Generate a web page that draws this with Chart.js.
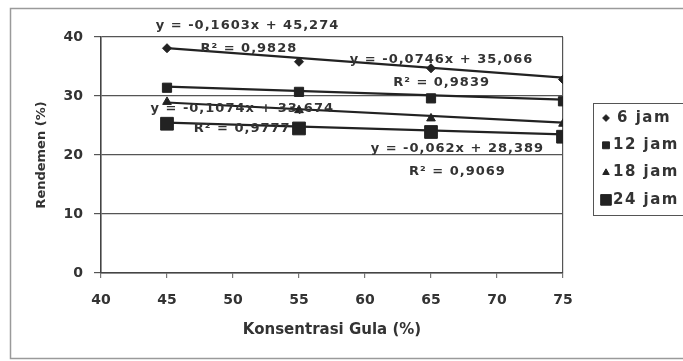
<!DOCTYPE html>
<html>
<head>
<meta charset="utf-8">
<script src="https://cdn.jsdelivr.net/npm/chart.js@4"></script>
<style>
  html, body { margin: 0; padding: 0; background: #fff; }
  #wrap { width: 683px; height: 361px; }
</style>
</head>
<body>
<div id="wrap"><canvas id="chart" width="683" height="361"></canvas></div>
<script>
// values
const konsentrasi = [45, 55, 65, 75];
const seriesNames = ["6 jam", "12 jam", "18 jam", "24 jam"];
const jam6 = [38.1, 35.8, 34.7, 32.8];
const jam12 = [31.4, 30.7, 29.6, 29.1];
const jam18 = [29.0, 27.6, 26.2, 25.3];
const jam24 = [25.3, 24.5, 23.9, 23.1];

// trendline ends (x = 45 and x = 75)
const trendX = [45, 75];
const trend6 = [38.1, 33.1];
const trend12 = [31.6, 29.4];
const trend18 = [28.9, 25.5];
const trend24 = [25.5, 23.5];

const xTicks = [40, 45, 50, 55, 60, 65, 70, 75];
const yTicks = [0, 10, 20, 30, 40];

// equation labels: text, x, y (data units)
const eqTexts = [
    "y = -0,1603x + 45,274", "R² = 0,9828",
    "y = -0,0746x + 35,066", "R² = 0,9839",
    "y = -0,1074x + 33,674", "R² = 0,9777",
    "y = -0,062x + 28,389", "R² = 0,9069"
];
const eqX = [51.1, 51.2, 65.8, 65.8, 50.7, 50.7, 67.0, 67.0];
const eqY = [42.0, 38.1, 36.1, 32.2, 27.9, 24.5, 21.1, 17.1];

const ink = "#222";
const FONT = "'DejaVu Sans', sans-serif";

function toPoints(xs, ys) {
    return xs.map((x, i) => ({ x: x, y: ys[i] }));
}

const markers = [
    { style: "rectRot", radius: 4.5 },
    { style: "rect", radius: 6.5 },
    { style: "triangle", radius: 5 },
    { style: "rect", radius: 9 }
];
const allSeries = [jam6, jam12, jam18, jam24];
const allTrends = [trend6, trend12, trend18, trend24];

const datasets = [];
allSeries.forEach((vals, i) => {
    datasets.push({
        label: seriesNames[i],
        data: toPoints(konsentrasi, vals),
        showLine: false,
        pointStyle: markers[i].style,
        pointRadius: markers[i].radius,
        backgroundColor: ink,
        borderColor: ink,
        borderWidth: 1
    });
});
allTrends.forEach((vals, i) => {
    datasets.push({
        label: "trend " + seriesNames[i],
        data: toPoints(trendX, vals),
        showLine: true,
        pointRadius: 0,
        borderColor: ink,
        borderWidth: 2.2,
        fill: false
    });
});

const framePlugin = {
    id: "frame",
    beforeDraw(chart) {
        const ctx = chart.ctx;
        ctx.save();
        ctx.fillStyle = "#fff";
        ctx.fillRect(0, 0, chart.width, chart.height);
        ctx.strokeStyle = "#9a9a9a";
        ctx.lineWidth = 1.5;
        ctx.strokeRect(10.5, 8.5, 700, 350);
        ctx.restore();
    }
};

const equationPlugin = {
    id: "equations",
    afterDatasetsDraw(chart) {
        const ctx = chart.ctx;
        const xs = chart.scales.x, ys = chart.scales.y;
        ctx.save();
        ctx.fillStyle = "#333";
        ctx.font = "bold 13px " + FONT;
        ctx.letterSpacing = "1px";
        ctx.textAlign = "center";
        ctx.textBaseline = "middle";
        eqTexts.forEach((t, i) => {
            ctx.fillText(t, xs.getPixelForValue(eqX[i]), ys.getPixelForValue(eqY[i]));
        });
        ctx.letterSpacing = "0px";
        ctx.restore();
    }
};

const legendPlugin = {
    id: "sideLegend",
    afterDraw(chart) {
        const ctx = chart.ctx;
        ctx.save();
        ctx.strokeStyle = "#555";
        ctx.lineWidth = 1;
        ctx.strokeRect(593.5, 103.5, 120, 112);
        ctx.font = "bold 15px " + FONT;
        ctx.letterSpacing = "1.5px";
        ctx.textBaseline = "middle";
        seriesNames.forEach((name, i) => {
            const y = 118 + i * 27.3;
            const m = markers[i];
            ctx.fillStyle = ink;
            ctx.strokeStyle = ink;
            Chart.helpers.drawPoint(ctx, {
                pointStyle: m.style,
                radius: i === 3 ? 7.5 : m.radius * 0.75,
                rotation: 0,
                borderWidth: 1
            }, 606, y);
            ctx.fillStyle = "#333";
            ctx.fillText(name, i === 0 ? 617 : 613, y);
        });
        ctx.letterSpacing = "0px";
        ctx.restore();
    }
};

new Chart(document.getElementById("chart"), {
    type: "scatter",
    data: { datasets: datasets },
    options: {
        responsive: false,
        animation: false,
        layout: { padding: { left: 30, right: 120, top: 37, bottom: 18 } },
        plugins: {
            legend: { display: false },
            tooltip: { enabled: false }
        },
        scales: {
            x: {
                type: "linear",
                min: 40,
                max: 75,
                afterBuildTicks: (scale) => { scale.ticks = xTicks.map(v => ({ value: v })); },
                afterFit: (scale) => { scale.height = 70; },
                border: { display: true, color: "#444", width: 1.5 },
                grid: {
                    color: (c) => (c.tick && (c.tick.value === 40 || c.tick.value === 75)) ? "#555" : "rgba(0,0,0,0)",
                    tickColor: "#777",
                    tickLength: 5,
                    lineWidth: 1.2
                },
                ticks: {
                    color: "#333",
                    padding: 14,
                    font: { family: FONT, size: 14, weight: "bold" }
                },
                title: {
                    display: true,
                    text: "Konsentrasi Gula (%)",
                    color: "#333",
                    padding: { top: 4, bottom: 4 },
                    font: { family: FONT, size: 15, weight: "bold" }
                }
            },
            y: {
                min: 0,
                max: 40,
                afterBuildTicks: (scale) => { scale.ticks = yTicks.map(v => ({ value: v })); },
                afterFit: (scale) => { scale.width = 71; },
                border: { display: true, color: "#444", width: 1.5 },
                grid: {
                    color: "#555",
                    tickColor: "#555",
                    tickLength: 7,
                    lineWidth: 1.2
                },
                ticks: {
                    color: "#333",
                    padding: 11,
                    font: { family: FONT, size: 14, weight: "bold" }
                },
                title: {
                    display: true,
                    text: "Rendemen (%)",
                    color: "#333",
                    padding: { top: 4, bottom: 4 },
                    font: { family: FONT, size: 13, weight: "bold" }
                }
            }
        }
    },
    plugins: [framePlugin, equationPlugin, legendPlugin]
});
</script>
</body>
</html>
